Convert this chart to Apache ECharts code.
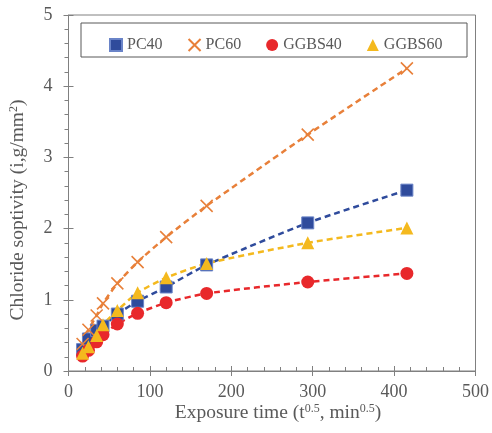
<!DOCTYPE html>
<html><head><meta charset="utf-8">
<script src="https://cdn.jsdelivr.net/npm/echarts@6/dist/echarts.min.js"></script>
<style>html,body{margin:0;padding:0;background:#fff}#c{width:492px;height:433px}</style>
</head><body><div id="c"></div>
<script>
const xTime = [17.3, 24.5, 34.6, 42.4, 60, 84.9, 120, 169.7, 293.9, 415.7];
const pc40 = [0.30, 0.45, 0.57, 0.63, 0.80, 0.98, 1.18, 1.49, 2.08, 2.54];
const pc60 = [0.38, 0.58, 0.78, 0.95, 1.23, 1.53, 1.88, 2.32, 3.32, 4.25];
const ggbs40 = [0.21, 0.29, 0.41, 0.51, 0.66, 0.81, 0.96, 1.09, 1.25, 1.37];
const ggbs60 = [0.25, 0.34, 0.50, 0.65, 0.85, 1.10, 1.31, 1.51, 1.80, 2.01];
const seriesNames = ['PC40', 'PC60', 'GGBS40', 'GGBS60'];
const xTicks = [0, 100, 200, 300, 400, 500];
const yTicks = [0, 1, 2, 3, 4, 5];

const FONT = 'Liberation Serif';
const TXT = '#595959';
const AX = '#808080';
const CROSS = 'path://M0,0L10,10M10,0L0,10';
const pair = arr => arr.map((v, i) => [xTime[i], v]);

const chart = echarts.init(document.getElementById('c'));
const mk = (name, data, color, symbol, size, extra) => Object.assign({
  name, type: 'line', data: pair(data), smooth: 0.2,
  symbol, symbolSize: size,
  lineStyle: { color, width: 2.5, type: [6, 4] },
  itemStyle: { color },
  z: 3
}, extra || {});

const richTitle = (size) => ({
  a: { fontFamily: FONT, fontSize: size, fontWeight: 'normal', fill: TXT },
  s: { fontFamily: FONT, fontSize: Math.round(size * 0.6), fontWeight: 'normal', fill: TXT, verticalAlign: 'top', padding: [0, 0, 9, 0] }
});

chart.setOption({
  animation: false,
  grid: { left: 68.5, right: 14, top: 15, bottom: 62, show: true, borderColor: AX, borderWidth: 1, backgroundColor: 'transparent' },
  legend: {
    left: 104, top: 32, itemGap: 25, itemWidth: 12, itemHeight: 12,
    textStyle: { fontFamily: FONT, fontSize: 16, color: TXT },
    data: [
      { name: seriesNames[0], icon: 'rect' },
      { name: seriesNames[1], icon: CROSS },
      { name: seriesNames[2], icon: 'circle' },
      { name: seriesNames[3], icon: 'triangle' }
    ]
  },
  graphic: [
    { type: 'rect', shape: { x: 81, y: 23, width: 386, height: 34 }, style: { fill: 'none', stroke: '#595959', lineWidth: 1 } },
    { type: 'text', x: 278, y: 413, style: { text: '{a|Exposure time (t}{s|0.5}{a|, min}{s|0.5}{a|)}', rich: richTitle(19.5), fill: TXT, align: 'center', verticalAlign: 'middle' } },
    { type: 'text', x: 18, y: 210, rotation: Math.PI / 2, style: { text: '{a|Chloride soptivity (i,g/mm}{s|2}{a|)}', rich: richTitle(19.5), fill: TXT, align: 'center', verticalAlign: 'middle' } }
  ],
  xAxis: [{
    type: 'value', min: xTicks[0], max: xTicks[xTicks.length - 1], interval: 100, position: 'bottom',
    axisLine: { show: true, lineStyle: { color: AX } },
    axisTick: { show: true, inside: false, length: 5, lineStyle: { color: AX } },
    axisLabel: { fontFamily: FONT, fontSize: 18, color: TXT, margin: 12 },
    splitLine: { show: false }
  }, {
    type: 'value', min: 0, max: 500, interval: 100, position: 'bottom',
    axisLine: { show: false },
    axisTick: { show: true, inside: true, length: 5, lineStyle: { color: AX } },
    minorTick: { show: true, splitNumber: 5, length: 4, lineStyle: { color: AX } },
    axisLabel: { show: false }, splitLine: { show: false }
  }],
  yAxis: [{
    type: 'value', min: yTicks[0], max: yTicks[yTicks.length - 1], interval: 1, position: 'left',
    axisLine: { show: true, lineStyle: { color: AX } },
    axisTick: { show: true, inside: false, length: 5, lineStyle: { color: AX } },
    minorTick: { show: true, splitNumber: 5, length: 4, lineStyle: { color: AX } },
    axisLabel: { fontFamily: FONT, fontSize: 18, color: TXT, margin: 16 },
    splitLine: { show: false }
  }, {
    type: 'value', min: 0, max: 5, interval: 1, position: 'left',
    axisLine: { show: false },
    axisTick: { show: true, inside: true, length: 5, lineStyle: { color: AX } },
    axisLabel: { show: false }, splitLine: { show: false }
  }],
  series: [
    mk('PC40', pc40, '#2F4B9C', 'rect', 12, { itemStyle: { color: '#2F4B9C', borderColor: '#6A84C8', borderWidth: 1 } }),
    mk('PC60', pc60, '#E8803A', CROSS, 12, { itemStyle: { color: 'rgba(0,0,0,0)', borderColor: '#E8803A', borderWidth: 1.6 } }),
    mk('GGBS40', ggbs40, '#E8282B', 'circle', 13),
    mk('GGBS60', ggbs60, '#F4B91E', 'triangle', 13)
  ]
});
</script></body></html>
